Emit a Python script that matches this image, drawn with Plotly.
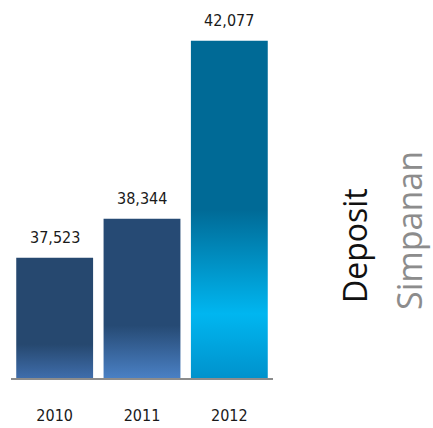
import plotly.graph_objects as go

# Deposit balances by year
years = ["2010", "2011", "2012"]
deposits = [37523, 38344, 42077]

# Vertical gradient for each bar (0 = bottom, 1 = top)
bar_gradients = [
    [[0.0, "#3f6dab"], [0.28, "#26486f"], [1.0, "#26486f"]],
    [[0.0, "#4a80c4"], [0.33, "#264a74"], [1.0, "#264a74"]],
    [[0.0, "#0092cc"], [0.19, "#00b6f0"], [0.5, "#006a96"], [1.0, "#006a96"]],
]

BASE = 35000
HALF = 0.44
W, H = 433, 428
ML, MR, MT, MB = 11, 160, 20, 50
plot_w = W - ML - MR
plot_h = H - MT - MB
px_per_unit = 0.04765
y_top = BASE + plot_h / px_per_unit

label_font = "DejaVu Sans Condensed, Roboto, sans-serif"


def paper_x(px):
    return (px - ML) / plot_w


def paper_y(py):
    return (H - MB - py) / plot_h


fig = go.Figure()
for i, (year, val) in enumerate(zip(years, deposits)):
    fig.add_trace(go.Scatter(
        x=[i - HALF, i + HALF, i + HALF, i - HALF, i - HALF],
        y=[BASE, BASE, val, val, BASE],
        mode="lines",
        line=dict(width=0),
        fill="toself",
        fillgradient=dict(type="vertical", colorscale=bar_gradients[i]),
        hoverinfo="skip",
        showlegend=False,
    ))
    fig.add_annotation(
        x=i, y=val, text=f"{val:,}", showarrow=False,
        yshift=20, yanchor="middle",
        font=dict(family=label_font, size=16, color="#1a1a1a"),
    )

fig.add_annotation(
    xref="paper", yref="paper", x=paper_x(354), y=paper_y(246), text="Deposit",
    textangle=-90, showarrow=False, xanchor="center", yanchor="middle",
    font=dict(family="Open Sans, sans-serif", size=32, color="#111111"),
)
fig.add_annotation(
    xref="paper", yref="paper", x=paper_x(409), y=paper_y(231), text="Simpanan",
    textangle=-90, showarrow=False, xanchor="center", yanchor="middle",
    font=dict(family="Open Sans, sans-serif", size=34, color="#8c8c8c"),
)

fig.update_layout(
    width=W, height=H,
    margin=dict(l=ML, r=MR, t=MT, b=MB, autoexpand=False),
    paper_bgcolor="white", plot_bgcolor="white",
    xaxis=dict(
        range=[-0.5, 2.5], tickvals=[0, 1, 2], ticktext=years,
        showgrid=False, zeroline=False, showline=True,
        linecolor="#8c8c8c", linewidth=2, ticks="",
        automargin=False, ticklabelstandoff=22,
        tickfont=dict(family=label_font, size=16, color="#1a1a1a"),
    ),
    yaxis=dict(
        range=[BASE, y_top], visible=False, showgrid=False, zeroline=False,
        automargin=False,
    ),
)

fig.write_html("out.html")
